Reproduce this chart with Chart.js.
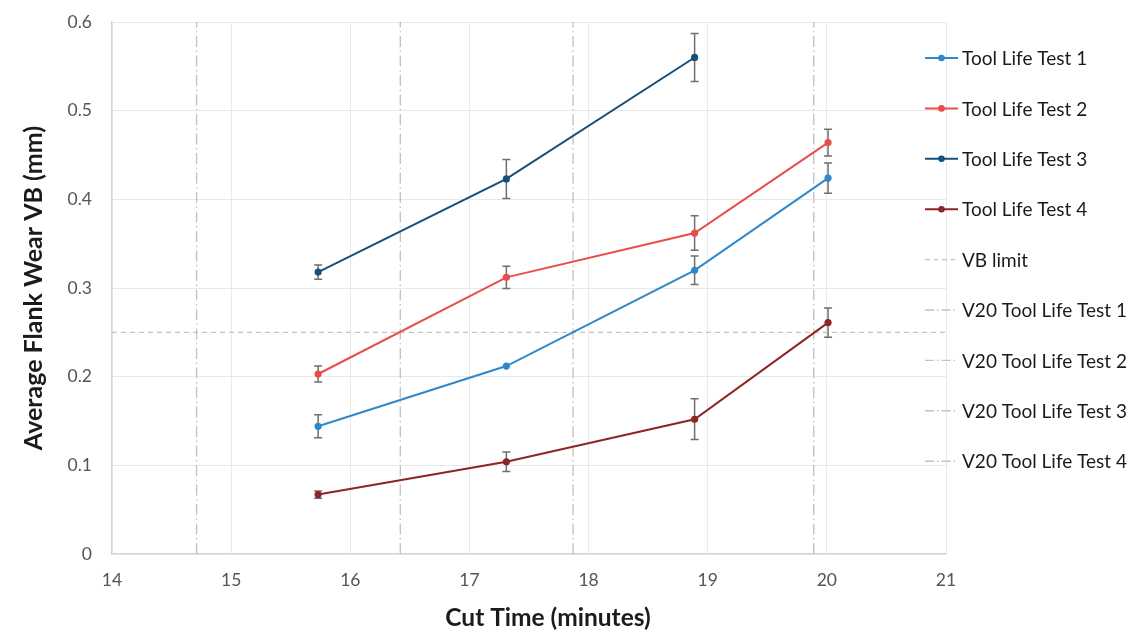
<!DOCTYPE html>
<html>
<head>
<meta charset="utf-8">
<title>Average Flank Wear vs Cut Time</title>
<script src="https://cdn.jsdelivr.net/npm/chart.js@4.4.1/dist/chart.umd.min.js"></script>
<style>
  html, body { margin: 0; padding: 0; background: #ffffff; }
  #wrap { width: 1134px; height: 631px; position: relative; }
</style>
</head>
<body>
<div id="wrap"><canvas id="chart" width="1134" height="631"></canvas></div>
<script>
// Cut time (minutes) at which flank wear was measured
const cutTimes = [15.73, 17.31, 18.89, 20.01];

// Average flank wear VB (mm) per tool life test
const wearTest1 = [0.144, 0.212, 0.320, 0.424];
const wearTest2 = [0.203, 0.312, 0.362, 0.464];
const wearTest3 = [0.318, 0.423, 0.560];
const wearTest4 = [0.067, 0.104, 0.152, 0.261];

// Error (±) on each measurement
const errTest1 = [0.013, 0.0, 0.016, 0.017];
const errTest2 = [0.009, 0.0125, 0.0195, 0.015];
const errTest3 = [0.008, 0.022, 0.027];
const errTest4 = [0.004, 0.011, 0.023, 0.0165];

// Wear criterion and the cut time at which each test reached it
const vbLimit = 0.25;
const v20Times = [14.71, 16.42, 17.87, 19.89];

const seriesLabels = ['Tool Life Test 1', 'Tool Life Test 2', 'Tool Life Test 3', 'Tool Life Test 4'];
const v20Labels = ['V20 Tool Life Test 1', 'V20 Tool Life Test 2', 'V20 Tool Life Test 3', 'V20 Tool Life Test 4'];

const xTickLabels = ['14', '15', '16', '17', '18', '19', '20', '21'];
const yTickLabels = ['0', '0.1', '0.2', '0.3', '0.4', '0.5', '0.6'];
const xTitle = 'Cut Time (minutes)';

const seriesColors = ['#2e88cb', '#e84d4b', '#154f7c', '#8f2425'];
const refColor = '#c3c3c3';
const FONT = 'Lato, "Open Sans", "DejaVu Sans", sans-serif';

const toPoints = (xs, ys) => ys.map((y, i) => ({ x: xs[i], y }));

const seriesValues = [wearTest1, wearTest2, wearTest3, wearTest4];
const seriesErrors = [errTest1, errTest2, errTest3, errTest4];

const datasets = [];
seriesValues.forEach((vals, i) => {
  datasets.push({
    label: seriesLabels[i],
    data: toPoints(cutTimes, vals),
    errors: seriesErrors[i],
    borderColor: seriesColors[i],
    backgroundColor: seriesColors[i],
    borderWidth: 2,
    pointRadius: 3.6,
    pointHoverRadius: 3.6,
    pointBorderWidth: 0,
    legendKind: 'series'
  });
});
datasets.push({
  label: 'VB limit',
  data: [{ x: 14, y: vbLimit }, { x: 21, y: vbLimit }],
  borderColor: refColor,
  borderWidth: 1.3,
  borderDash: [5, 4],
  pointRadius: 0,
  legendKind: 'dash'
});
v20Times.forEach((t, i) => {
  datasets.push({
    label: v20Labels[i],
    data: [{ x: t, y: 0 }, { x: t, y: 0.6 }],
    borderColor: refColor,
    borderWidth: 1.4,
    borderDash: [11, 3.5, 1.5, 3.5],
    pointRadius: 0,
    legendKind: 'dashdot'
  });
});

// Vertical error bars with end caps, placed through the chart scales
const errorBarPlugin = {
  id: 'errorBars',
  beforeDatasetsDraw(chart) {
    const { ctx, scales: { x, y } } = chart;
    ctx.save();
    ctx.strokeStyle = '#6f6f6f';
    ctx.lineWidth = 1.5;
    chart.data.datasets.forEach(ds => {
      if (!ds.errors) return;
      ds.data.forEach((p, j) => {
        const e = ds.errors[j];
        if (!e) return;
        const px = x.getPixelForValue(p.x);
        const top = y.getPixelForValue(p.y + e);
        const bot = y.getPixelForValue(p.y - e);
        ctx.beginPath();
        ctx.moveTo(px, top); ctx.lineTo(px, bot);
        ctx.moveTo(px - 4, top); ctx.lineTo(px + 4, top);
        ctx.moveTo(px - 4, bot); ctx.lineTo(px + 4, bot);
        ctx.stroke();
      });
    });
    ctx.restore();
  }
};

// Legend column on the right-hand side and the x-axis title below the ticks
const sideLegendPlugin = {
  id: 'sideLegend',
  afterDraw(chart) {
    const { ctx } = chart;
    const x0 = 925, textX = 962, y0 = 58, step = 50.4;
    ctx.save();
    ctx.font = '19px ' + FONT;
    ctx.textBaseline = 'middle';
    ctx.textAlign = 'left';
    chart.data.datasets.forEach((ds, i) => {
      const yy = y0 + i * step;
      ctx.strokeStyle = ds.borderColor;
      if (ds.legendKind === 'series') {
        ctx.lineWidth = 2;
        ctx.setLineDash([]);
        ctx.beginPath(); ctx.moveTo(x0, yy); ctx.lineTo(x0 + 33, yy); ctx.stroke();
        ctx.fillStyle = ds.borderColor;
        ctx.beginPath(); ctx.arc(x0 + 16.5, yy, 3.3, 0, Math.PI * 2); ctx.fill();
      } else if (ds.legendKind === 'dash') {
        ctx.lineWidth = 1.3;
        ctx.setLineDash([5, 3.5]);
        ctx.beginPath(); ctx.moveTo(x0, yy); ctx.lineTo(x0 + 30, yy); ctx.stroke();
      } else {
        ctx.lineWidth = 1.4;
        ctx.setLineDash([9, 3, 1.5, 3]);
        ctx.beginPath(); ctx.moveTo(x0, yy); ctx.lineTo(x0 + 33, yy); ctx.stroke();
      }
      ctx.setLineDash([]);
      ctx.fillStyle = '#1b1b1b';
      ctx.fillText(ds.label, textX, yy + 1);
    });

    ctx.font = 'bold 24.5px ' + FONT;
    ctx.textAlign = 'center';
    ctx.fillStyle = '#1b1b1b';
    ctx.fillText(xTitle, 548, 618);
    ctx.restore();
  }
};

new Chart(document.getElementById('chart'), {
  type: 'line',
  data: { datasets },
  plugins: [errorBarPlugin, sideLegendPlugin],
  options: {
    responsive: false,
    animation: false,
    events: [],
    layout: { padding: { top: 22, right: 188, left: 0, bottom: 0 } },
    plugins: { legend: { display: false }, tooltip: { enabled: false } },
    elements: { line: { tension: 0 } },
    scales: {
      x: {
        type: 'linear',
        min: 14, max: 21,
        afterFit(scale) { scale.height = 77; },
        ticks: {
          stepSize: 1,
          padding: 16,
          color: '#555555',
          font: { family: FONT, size: 17.5 },
          callback: (v, i) => xTickLabels[i]
        },
        grid: { color: '#e9e9e9', lineWidth: 1, drawTicks: false },
        border: { display: true, color: '#d4d4d4', width: 1.3 }
      },
      y: {
        type: 'linear',
        min: 0, max: 0.6,
        afterFit(scale) {
          scale.width = 112;
          scale.paddingTop = 0;
          scale.paddingBottom = 0;
        },
        ticks: {
          stepSize: 0.1,
          padding: 20,
          color: '#555555',
          font: { family: FONT, size: 17.5 },
          callback: (v, i) => yTickLabels[i]
        },
        grid: { color: '#e9e9e9', lineWidth: 1, drawTicks: false },
        border: { display: true, color: '#d4d4d4', width: 1.3 },
        title: {
          display: true,
          text: 'Average Flank Wear VB (mm)',
          color: '#1b1b1b',
          font: { family: FONT, size: 25, weight: 'bold' },
          padding: { top: 19, bottom: 0 }
        }
      }
    }
  }
});
</script>
</body>
</html>
